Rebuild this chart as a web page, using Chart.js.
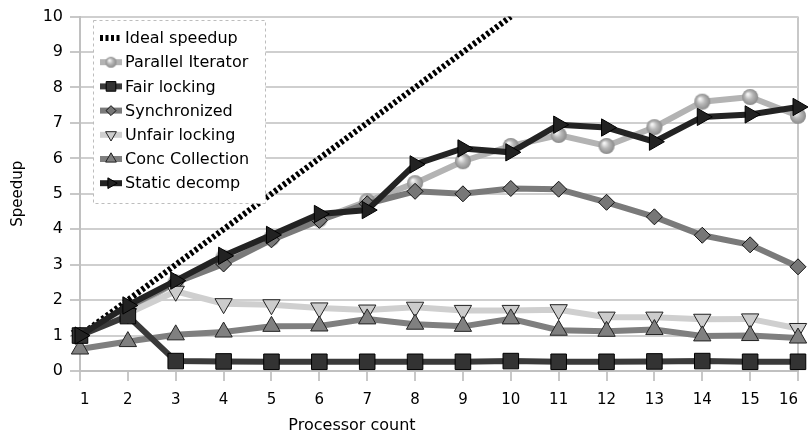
<!DOCTYPE html>
<html>
<head>
<meta charset="utf-8">
<script src="https://cdn.jsdelivr.net/npm/chart.js@4/dist/chart.umd.min.js"></script>
<style>
html,body{margin:0;padding:0;background:#fff;}
#wrap{width:812px;height:438px;position:relative;}
</style>
</head>
<body>
<div id="wrap"><canvas id="c" width="812" height="438"></canvas></div>
<script>
const categories = ['1','2','3','4','5','6','7','8','9','10','11','12','13','14','15','16'];
const yTicks = [0,1,2,3,4,5,6,7,8,9,10];
const xTitle = 'Processor count';
const yTitle = 'Speedup';
const seriesNames = ['Ideal speedup','Parallel Iterator','Fair locking','Synchronized','Unfair locking','Conc Collection','Static decomp'];
const idealSpeedup = [1,2,3,4,5,6,7,8,9,10,null,null,null,null,null,null];
const parallelIterator = [1.0,1.7,2.5,3.2,3.75,4.28,4.79,5.3,5.92,6.35,6.66,6.35,6.88,7.6,7.73,7.2];
const fairLocking = [1.0,1.55,0.28,0.27,0.26,0.26,0.26,0.26,0.26,0.28,0.26,0.26,0.27,0.28,0.26,0.26];
const synchronizedS = [1.0,1.8,2.5,3.02,3.7,4.25,4.72,5.07,5.0,5.15,5.13,4.76,4.35,3.83,3.56,2.94];
const unfairLocking = [1.0,1.62,2.25,1.9,1.87,1.78,1.72,1.8,1.71,1.71,1.73,1.52,1.52,1.46,1.47,1.2];
const concCollection = [0.62,0.83,1.02,1.1,1.26,1.27,1.47,1.32,1.26,1.47,1.15,1.12,1.17,0.99,1.0,0.93];
const staticDecomp = [1.0,1.85,2.55,3.25,3.84,4.43,4.54,5.83,6.28,6.17,6.95,6.87,6.47,7.17,7.24,7.45];

function makeSphere(r){
  const s = Math.ceil(r*2)+2;
  const cv = document.createElement('canvas');
  cv.width = s; cv.height = s;
  const g = cv.getContext('2d');
  const cx = s/2, cy = s/2;
  const grad = g.createRadialGradient(cx - r*0.3, cy - r*0.35, r*0.1, cx, cy, r);
  grad.addColorStop(0, '#f4f4f4');
  grad.addColorStop(0.45, '#b8b8b8');
  grad.addColorStop(1, '#8a8a8a');
  g.fillStyle = grad;
  g.beginPath(); g.arc(cx, cy, r, 0, Math.PI*2); g.fill();
  return cv;
}
const sphereBig = makeSphere(8);
const sphereSmall = makeSphere(5.5);

const datasets = [
  {label: seriesNames[0], data: idealSpeedup, borderColor:'#000', borderWidth:6, borderDash:[3,2.5], pointRadius:0, order:7},
  {label: seriesNames[1], data: parallelIterator, borderColor:'#b3b3b3', borderWidth:6, pointStyle: sphereBig, pointRadius:8, order:5, legendPoint: sphereSmall},
  {label: seriesNames[2], data: fairLocking, borderColor:'#3a3a3a', borderWidth:6, pointStyle:'rect', pointRadius:11, pointBackgroundColor:'#333', pointBorderColor:'#000', pointBorderWidth:1, order:1},
  {label: seriesNames[3], data: synchronizedS, borderColor:'#7a7a7a', borderWidth:6, pointStyle:'rectRot', pointRadius:8, pointBackgroundColor:'#777', pointBorderColor:'#111', pointBorderWidth:1, order:4},
  {label: seriesNames[4], data: unfairLocking, borderColor:'#cfcfcf', borderWidth:6, pointStyle:'triangle', pointRotation:180, pointRadius:10, pointBackgroundColor:'#cccccc', pointBorderColor:'#222', pointBorderWidth:1, order:3},
  {label: seriesNames[5], data: concCollection, borderColor:'#7f7f7f', borderWidth:6, pointStyle:'triangle', pointRotation:0, pointRadius:10, pointBackgroundColor:'#808080', pointBorderColor:'#222', pointBorderWidth:1, order:2},
  {label: seriesNames[6], data: staticDecomp, borderColor:'#232323', borderWidth:6, pointStyle:'triangle', pointRotation:90, pointRadius:10, pointBackgroundColor:'#222', pointBorderColor:'#000', pointBorderWidth:1, order:0}
];
datasets.forEach(d => { d.tension = 0; d.fill = false; d.pointHoverRadius = d.pointRadius; d.spanGaps = false; });

function drawMarker(ctx, ds, x, y, scale){
  const style = ds.legendPoint || ds.pointStyle;
  if (!style) return;
  if (typeof style !== 'string') {
    ctx.drawImage(style, x - style.width/2, y - style.height/2);
    return;
  }
  const r = ds.pointRadius * scale;
  ctx.save();
  ctx.fillStyle = ds.pointBackgroundColor;
  ctx.strokeStyle = ds.pointBorderColor;
  ctx.lineWidth = 1;
  ctx.setLineDash([]);
  ctx.beginPath();
  if (style === 'rect') {
    const h = r*Math.SQRT1_2;
    ctx.rect(x-h, y-h, 2*h, 2*h);
  } else if (style === 'rectRot') {
    ctx.moveTo(x, y-r); ctx.lineTo(x+r, y); ctx.lineTo(x, y+r); ctx.lineTo(x-r, y); ctx.closePath();
  } else if (style === 'triangle') {
    let a = (ds.pointRotation||0) * Math.PI/180;
    for (let i=0;i<3;i++){
      const px = x + Math.sin(a)*r, py = y - Math.cos(a)*r;
      if (i===0) ctx.moveTo(px,py); else ctx.lineTo(px,py);
      a += 2*Math.PI/3;
    }
    ctx.closePath();
  }
  ctx.fill(); ctx.stroke();
  ctx.restore();
}

const legendPlugin = {
  id: 'insideLegend',
  afterDraw(chart){
    const ctx = chart.ctx;
    const bx = 93.5, by = 20.5, bw = 172, bh = 183;
    ctx.save();
    ctx.fillStyle = '#fff';
    ctx.fillRect(bx, by, bw, bh);
    ctx.strokeStyle = '#bdbdbd';
    ctx.lineWidth = 1;
    ctx.setLineDash([3,3]);
    ctx.strokeRect(bx, by, bw, bh);
    ctx.setLineDash([]);
    ctx.font = '16px "DejaVu Sans", sans-serif';
    ctx.textBaseline = 'middle';
    ctx.textAlign = 'left';
    chart.data.datasets.forEach((ds, i) => {
      const y = 38 + i*24.2;
      ctx.save();
      ctx.strokeStyle = ds.borderColor;
      ctx.lineWidth = 6;
      if (ds.borderDash) ctx.setLineDash(ds.borderDash);
      ctx.beginPath(); ctx.moveTo(100, y); ctx.lineTo(122, y); ctx.stroke();
      ctx.restore();
      drawMarker(ctx, ds, 111, y, 0.62);
      ctx.fillStyle = '#000';
      ctx.fillText(ds.label, 125, y + 1);
    });
    // x-axis title (placed left of centre, as in the reference)
    ctx.font = '16px "DejaVu Sans", sans-serif';
    ctx.textAlign = 'center';
    ctx.fillStyle = '#000';
    ctx.fillText(xTitle, 352, 426);
    ctx.restore();
  }
};

new Chart(document.getElementById('c'), {
  type: 'line',
  data: { labels: categories, datasets: datasets },
  options: {
    responsive: false,
    animation: false,
    devicePixelRatio: 1,
    layout: { padding: { top: 14, right: 12, left: 0, bottom: 0 } },
    plugins: { legend: { display: false }, tooltip: { enabled: false } },
    scales: {
      x: {
        type: 'category',
        offset: false,
        grid: {
          color: c => c.index === categories.length - 1 ? '#c8c8c8' : 'rgba(0,0,0,0)',
          tickColor: '#c8c8c8',
          tickLength: 10,
          lineWidth: 2,
          drawOnChartArea: true
        },
        border: { color: '#c0c0c0', width: 2 },
        ticks: { color: '#000', font: { family: '"DejaVu Sans", sans-serif', size: 15 }, padding: 10, maxRotation: 0, autoSkip: false, align: 'inner' },
        title: { display: false, text: xTitle },
        afterFit: s => { s.height = 67; }
      },
      y: {
        min: 0, max: 10,
        afterBuildTicks: s => { s.ticks = yTicks.map(v => ({ value: v })); },
        grid: { color: '#cfcfcf', tickColor: '#c8c8c8', tickLength: 10, lineWidth: 2 },
        border: { color: '#c0c0c0', width: 2 },
        ticks: { color: '#000', font: { family: '"DejaVu Sans", sans-serif', size: 16 }, padding: 7 },
        title: { display: true, text: yTitle, color: '#000', font: { family: '"DejaVu Sans", sans-serif', size: 15 }, padding: { top: 9, bottom: 0 } },
        afterFit: s => { s.width = 80; }
      }
    }
  },
  plugins: [legendPlugin]
});
</script>
</body>
</html>
